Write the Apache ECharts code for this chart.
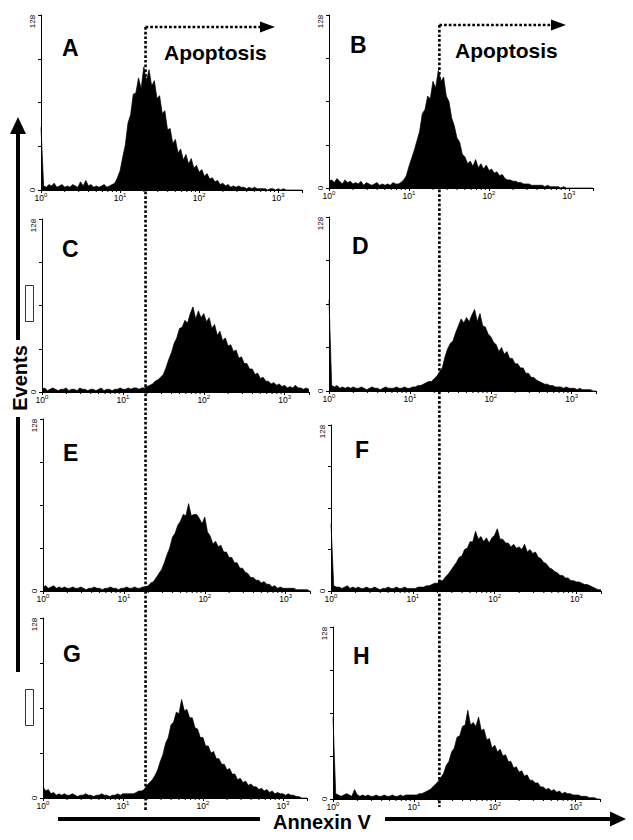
<!DOCTYPE html>
<html><head><meta charset="utf-8">
<script src="https://cdn.jsdelivr.net/npm/echarts@6/dist/echarts.min.js"></script>
<style>html,body{margin:0;padding:0;background:#fff}#chart{width:633px;height:840px}</style>
</head><body><div id="chart"></div>
<script>
// ---------------- data ----------------
const panelLabels = ['A', 'B', 'C', 'D', 'E', 'F', 'G', 'H'];
const binsPerDecade = 30;          // histogram channels per decade of Annexin V fluorescence
const xMin = 1, xMax = 2000;       // axis range (10^0 .. ~10^3.3)
const yMax = 128, yStep = 32;      // Events axis
const minorTicks = [2,3,4,5,6,7,8,9,20,30,40,50,60,70,80,90,200,300,400,500,600,700,800,900];
const gateLeft = 21;   // apoptosis gate, left column
const gateRight = 24;  // apoptosis gate, right column

const histA = [46,3,2,4,3,5,2,3,4,2,3,2,4,3,2,6,3,7,3,4,2,3,2,3,4,2,3,4,
  5,9,14,24,33,49,55,70,71,82,74,90,80,88,76,80,67,69,56,58,44,45,34,37,27,30,22,26,19,23,16,18,13,15,10,12,8,9,6,7,4,5,3,4,2,3,2,3,2,2,
  1,2,1,2,1,1,1,1,0,1,1,0,1,0,1,0,0,0,0,0,0,0];
const histB = [5,6,4,7,5,3,6,4,5,3,4,3,5,2,4,3,2,3,4,2,3,2,3,2,4,3,3,4,
  6,9,16,22,28,35,42,55,58,68,66,79,74,87,79,82,68,64,52,46,37,34,25,23,18,20,16,21,15,18,14,17,13,14,11,12,9,10,7,6,6,5,5,4,4,3,3,3,
  2,2,2,2,2,1,2,1,1,1,1,0,1,0,0,0,0,0,0,0,0,0,0,0];
const histC = [2,3,1,2,3,2,1,2,2,3,1,2,2,1,3,2,2,1,2,2,1,2,3,1,2,2,1,2,2,3,2,2,3,2,3,3,2,
  3,3,4,5,6,8,9,11,13,18,24,29,36,40,47,48,53,51,58,63,54,60,55,58,52,55,47,50,42,45,38,40,34,35,30,31,25,26,21,21,17,17,13,14,10,11,8,8,6,7,5,6,4,5,3,4,3,5,3,3,2,3,2];
const histD = [67,4,3,4,2,3,2,3,2,3,2,2,3,2,1,2,3,2,2,1,2,3,2,2,2,3,2,2,3,2,
  2,3,3,4,4,5,6,7,7,9,11,14,17,25,31,35,37,43,48,53,50,54,51,56,60,51,57,48,47,42,40,36,34,29,32,27,29,24,24,20,20,17,17,13,13,10,10,8,7,6,5,5,4,4,3,3,3,2,3,2,2,2,1,2,1,1,1,1,0,0];
const histE = [3,4,2,3,4,2,3,2,3,2,2,3,2,2,3,2,1,2,2,3,2,2,1,2,2,3,2,2,1,2,2,3,2,2,3,2,2,3,
  3,4,6,7,10,13,16,21,27,32,40,43,49,52,57,56,65,56,57,57,54,50,55,44,41,35,37,33,34,29,29,25,25,21,21,17,17,14,13,10,10,8,8,6,7,5,5,3,4,2,3,2,2,2,2,2,1,1,1,1,1,0];
const histF = [52,4,3,3,2,3,4,2,3,2,3,2,2,3,2,2,3,2,1,2,2,3,2,2,3,2,2,3,2,2,
  2,2,3,3,3,4,4,5,6,6,8,8,11,13,16,19,22,26,27,32,33,38,38,46,40,42,38,41,37,41,43,48,40,40,37,37,34,36,33,34,32,36,30,32,29,30,26,25,22,21,18,17,15,14,12,12,10,10,8,8,7,7,6,5,5,4,3,2,1,1];
const histG = [8,5,6,3,4,2,3,2,3,2,2,3,2,1,2,2,3,2,2,1,2,2,3,2,2,1,2,2,3,2,3,
  3,3,3,3,4,5,5,6,9,11,13,16,20,26,31,39,43,52,54,61,60,70,62,63,57,57,50,49,43,43,37,37,32,33,28,28,24,24,20,21,17,17,13,14,11,12,9,10,8,8,6,7,5,6,4,5,3,4,3,3,2,3,2,2,1,1,0,0,0];
const histH = [61,4,3,2,3,4,3,2,7,3,2,3,2,3,2,2,3,2,2,3,2,2,3,2,2,3,2,3,3,3,
  3,3,4,4,5,6,7,9,11,13,16,19,25,28,35,38,46,47,54,55,66,55,57,54,61,51,52,44,45,38,40,35,37,32,33,28,28,23,24,20,21,17,18,14,14,12,12,9,9,7,8,6,7,5,6,4,5,4,4,3,3,3,2,2,2,1,1,1,0,0];
const histograms = [histA, histB, histC, histD, histE, histF, histG, histH];

// ---------------- layout ----------------
const FONT = '"Liberation Sans", Arial, Helvetica, sans-serif';
const panels = [
  {left: 41,  top: 15,  width: 261, height: 175, lx: 62,  ly: 48},
  {left: 329, top: 15,  width: 264, height: 173, lx: 350, ly: 45},
  {left: 42,  top: 219, width: 267, height: 173, lx: 62,  ly: 249},
  {left: 329, top: 217, width: 267, height: 174, lx: 352, ly: 246},
  {left: 43,  top: 419, width: 267, height: 172, lx: 63,  ly: 453},
  {left: 331, top: 425, width: 270, height: 166, lx: 355, ly: 450},
  {left: 43,  top: 618, width: 264, height: 180, lx: 63,  ly: 654},
  {left: 333, top: 627, width: 267, height: 172, lx: 353, ly: 656}
];

const chart = echarts.init(document.getElementById('chart'), null, {renderer: 'svg', width: 633, height: 840});

function xLabel(v) {
  const e = Math.log10(v);
  const r = Math.round(e);
  if (Math.abs(e - r) > 1e-6 || v > 1000) return '';
  return '{b|10}{s|' + r + '}';
}
function yLabel(v) {
  if (v === yMax) return '{t|' + v + '}';
  if (v === 0) return '{z|0}';
  return '';
}

const option = {
  animation: false,
  backgroundColor: '#fff',
  grid: panels.map(p => ({left: p.left, top: p.top, width: p.width, height: p.height, outerBoundsMode: 'none', containLabel: false})),
  xAxis: panels.map((p, i) => ({
    type: 'log', logBase: 10, min: xMin, max: xMax, gridIndex: i,
    axisLine: {show: true, lineStyle: {color: '#000', width: 1}},
    axisTick: {show: true, length: 3, lineStyle: {color: '#000', width: 1}},
    splitLine: {show: false},
    axisLabel: {
      margin: 2, formatter: xLabel, color: '#000',
      rich: {
        b: {fontFamily: FONT, fontSize: 8.5, lineHeight: 11, color: '#000'},
        s: {fontFamily: FONT, fontSize: 6, lineHeight: 7, verticalAlign: 'top', color: '#000'}
      }
    }
  })),
  yAxis: panels.map((p, i) => ({
    type: 'value', min: 0, max: yMax, interval: yStep, gridIndex: i,
    axisLine: {show: true, lineStyle: {color: '#000', width: 1}},
    axisTick: {show: true, length: 3, lineStyle: {color: '#000', width: 1}},
    splitLine: {show: false},
    axisLabel: {
      rotate: 90, margin: 5, formatter: yLabel, fontFamily: FONT, fontSize: 8, color: '#000',
      rich: {
        t: {fontFamily: FONT, fontSize: 8, color: '#000', padding: [0, 13, 0, 0]},
        z: {fontFamily: FONT, fontSize: 8, color: '#000'}
      }
    }
  })),
  series: []
};

histograms.forEach((h, i) => {
  option.series.push({
    type: 'line', xAxisIndex: i, yAxisIndex: i,
    data: h.map((v, k) => [Math.pow(10, k / binsPerDecade), v]),
    showSymbol: false, symbol: 'none', smooth: false,
    lineStyle: {color: '#000', width: 0.7},
    areaStyle: {color: '#000', opacity: 1},
    silent: true
  });
  option.series.push({
    type: 'custom', xAxisIndex: i, yAxisIndex: i, clip: false, silent: true,
    data: minorTicks.map(v => [v, 0]),
    renderItem: function (params, api) {
      const pt = api.coord([api.value(0), 0]);
      return {type: 'line', shape: {x1: pt[0], y1: pt[1], x2: pt[0], y2: pt[1] + 2}, style: {stroke: '#000', lineWidth: 1}};
    }
  });
});

chart.setOption(option);

// ---------------- annotations ----------------
const gxL = chart.convertToPixel({xAxisIndex: 0}, gateLeft);
const gxR = chart.convertToPixel({xAxisIndex: 1}, gateRight);
const dash = [2.7, 2];
const g = [];

panels.forEach((p, i) => {
  g.push({type: 'text', x: p.lx, y: p.ly, style: {text: panelLabels[i], font: 'bold 23px ' + FONT, fill: '#000', textAlign: 'left', textVerticalAlign: 'middle'}});
});

// gate lines
g.push({type: 'line', shape: {x1: gxL, y1: 27, x2: gxL, y2: 812}, style: {stroke: '#000', lineWidth: 2.6, lineDash: dash}});
g.push({type: 'line', shape: {x1: gxR, y1: 25, x2: gxR, y2: 807}, style: {stroke: '#000', lineWidth: 2.6, lineDash: dash}});
g.push({type: 'line', shape: {x1: gxL, y1: 27, x2: 262, y2: 27}, style: {stroke: '#000', lineWidth: 2.6, lineDash: dash}});
g.push({type: 'line', shape: {x1: gxR, y1: 25, x2: 553, y2: 25}, style: {stroke: '#000', lineWidth: 2.6, lineDash: dash}});
g.push({type: 'polygon', shape: {points: [[260, 21.5], [275, 27], [260, 32.5]]}, style: {fill: '#000'}});
g.push({type: 'polygon', shape: {points: [[551, 19.5], [566, 25], [551, 30.5]]}, style: {fill: '#000'}});
g.push({type: 'text', x: 164, y: 52, style: {text: 'Apoptosis', font: 'bold 21px ' + FONT, fill: '#000', textAlign: 'left', textVerticalAlign: 'middle'}});
g.push({type: 'text', x: 455, y: 50, style: {text: 'Apoptosis', font: 'bold 21px ' + FONT, fill: '#000', textAlign: 'left', textVerticalAlign: 'middle'}});

// Events axis arrow
g.push({type: 'line', shape: {x1: 18, y1: 130, x2: 18, y2: 340}, style: {stroke: '#000', lineWidth: 4}});
g.push({type: 'line', shape: {x1: 18, y1: 417, x2: 18, y2: 672}, style: {stroke: '#000', lineWidth: 4}});
g.push({type: 'polygon', shape: {points: [[10, 134], [18, 117], [26, 134]]}, style: {fill: '#000'}});
g.push({type: 'text', x: 20, y: 378, rotation: Math.PI / 2, style: {text: 'Events', font: 'bold 20px ' + FONT, fill: '#000', textAlign: 'center', textVerticalAlign: 'middle'}});
g.push({type: 'rect', shape: {x: 25.5, y: 285.5, width: 8, height: 36}, style: {fill: '#fff', stroke: '#333', lineWidth: 1}});
g.push({type: 'rect', shape: {x: 25.5, y: 689.5, width: 8, height: 36}, style: {fill: '#fff', stroke: '#333', lineWidth: 1}});

// Annexin V axis arrow
g.push({type: 'line', shape: {x1: 58, y1: 819, x2: 260, y2: 819}, style: {stroke: '#000', lineWidth: 4}});
g.push({type: 'line', shape: {x1: 385, y1: 819, x2: 612, y2: 819}, style: {stroke: '#000', lineWidth: 4}});
g.push({type: 'polygon', shape: {points: [[610, 811.5], [626, 819], [610, 826.5]]}, style: {fill: '#000'}});
g.push({type: 'text', x: 322, y: 822, style: {text: 'Annexin V', font: 'bold 20px ' + FONT, fill: '#000', textAlign: 'center', textVerticalAlign: 'middle'}});

chart.setOption({graphic: {elements: g}});
</script>
</body></html>
